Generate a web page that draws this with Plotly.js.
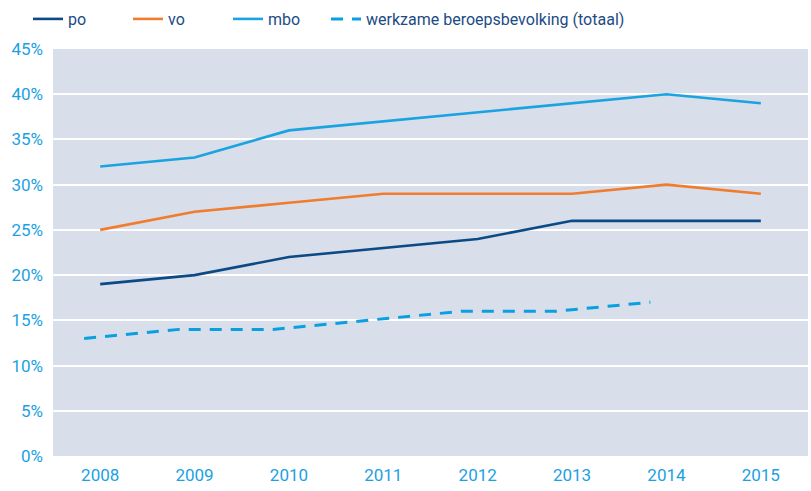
<!DOCTYPE html>
<html><head><meta charset="utf-8">
<script src="https://cdn.plot.ly/plotly-3.0.1.min.js"></script>
<style>html,body{margin:0;padding:0;background:#fff}#c{width:811px;height:491px}</style>
</head><body><div id="c"></div>
<script>
const years = ['2008','2009','2010','2011','2012','2013','2014','2015'];
const po = [19, 20, 22, 23, 24, 26, 26, 26];
const vo = [25, 27, 28, 29, 29, 29, 30, 29];
const mbo = [32, 33, 36, 37, 38, 39, 40, 39];
const werkzameYears = ['2008','2009','2010','2011','2012','2013','2014'];
const werkzame = [13, 14, 14, 15, 16, 16, 17];

const font = 'Roboto, "DejaVu Sans Condensed", sans-serif';
const traces = [
  {x: years, y: po, name: 'po', mode: 'lines', line: {color: '#0c4a85', width: 2.6}},
  {x: years, y: vo, name: 'vo', mode: 'lines', line: {color: '#f07c2e', width: 2.6}},
  {x: years, y: mbo, name: 'mbo', mode: 'lines', line: {color: '#1aa3e0', width: 2.6}},
  {x: werkzameYears, y: werkzame, name: 'werkzame beroepsbevolking (totaal)', mode: 'lines', xaxis: 'x2',
   legend: 'legend2', line: {color: '#0aa0e0', width: 3, dash: '12px,9px'}}
];
const legFont = {family: font, size: 16, color: '#1c4b85'};
const layout = {
  width: 811, height: 491,
  margin: {l: 53, r: 3, t: 49, b: 35},
  paper_bgcolor: '#ffffff',
  plot_bgcolor: '#d8deea',
  font: {family: font, color: '#1ba1e2', size: 17},
  showlegend: true,
  legend: {orientation: 'h', xref: 'container', x: 28/811, yref: 'container', y: 1 - 19/491,
           yanchor: 'middle', xanchor: 'left', entrywidth: 55, entrywidthmode: 'pixels',
           font: legFont, bgcolor: 'rgba(0,0,0,0)', itemwidth: 30},
  legend2: {orientation: 'h', xref: 'container', x: 326/811, yref: 'container', y: 1 - 19/491,
           yanchor: 'middle', xanchor: 'left',
           font: legFont, bgcolor: 'rgba(0,0,0,0)', itemwidth: 30},
  xaxis: {type: 'category', range: [-0.5, 7.5], showgrid: false, zeroline: false, showline: false,
          ticks: '', ticklabelstandoff: 7, tickfont: {size: 17, color: '#1ba1e2'}},
  xaxis2: {type: 'category', overlaying: 'x', range: [-0.33, 7.67], visible: false, categoryarray: years, categoryorder: 'array'},
  yaxis: {range: [0, 45], dtick: 5, ticksuffix: '%', showgrid: true, gridcolor: '#ffffff', gridwidth: 2,
          zeroline: false, showline: false, ticks: '', ticklabelstandoff: 9, tickfont: {size: 17, color: '#1ba1e2'}}
};
Plotly.newPlot('c', traces, layout, {displayModeBar: false, staticPlot: true});
</script></body></html>
